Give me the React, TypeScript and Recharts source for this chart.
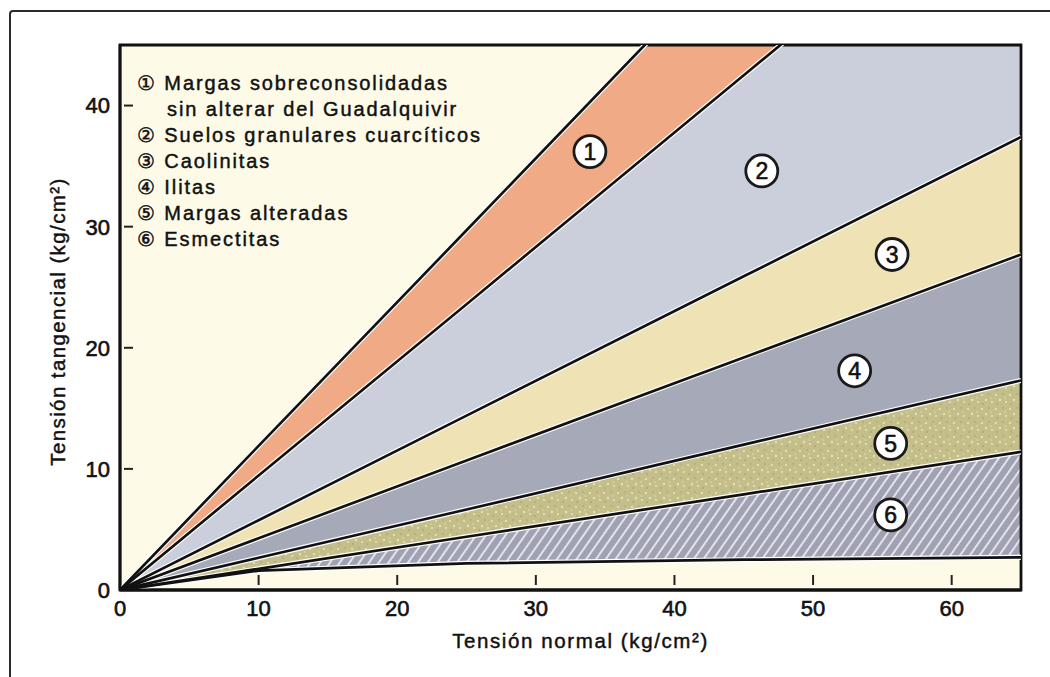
import React from 'react';
import {
  ComposedChart,
  Area,
  Line,
  XAxis,
  YAxis,
  CartesianGrid,
  ReferenceArea,
  ReferenceDot,
  Label,
} from 'recharts';

// Normal stress (x) sample points, kg/cm2
const normalStress = [0, 10, 25, 45, 65];
// Boundary lines (tangential stress, kg/cm2) read at those points
const line1 = [0, 11.9, 29.7, 53.5, 77.3];
const line2 = [0, 9.45, 23.6, 42.5, 61.4];
const line3 = [0, 5.76, 14.4, 25.9, 37.4];
const line4 = [0, 4.27, 10.7, 19.2, 27.7];
const line5 = [0, 2.66, 6.65, 12.0, 17.3];
const line6 = [0, 1.75, 4.4, 7.9, 11.4];
const lineBase = [0, 1.6, 2.2, 2.5, 2.7];

const xTicks = [0, 10, 20, 30, 40, 50, 60];
const yTicks = [0, 10, 20, 30, 40];

const bandNames = ['1', '2', '3', '4', '5', '6'];
const bandLabelX = [33.9, 46.3, 55.7, 53.0, 55.6, 55.6];
const bandLabelY = [36.2, 34.6, 27.7, 18.1, 12.1, 6.2];

const legendLines = [
  '\u2460 Margas sobreconsolidadas',
  'sin alterar del Guadalquivir',
  '\u2461 Suelos granulares cuarcíticos',
  '\u2462 Caolinitas',
  '\u2463 Ilitas',
  '\u2464 Margas alteradas',
  '\u2465 Esmectitas',
];

const xTitle = 'Tensión normal (kg/cm²)';
const yTitle = 'Tensión tangencial (kg/cm²)';

const data = normalStress.map((x, i) => ({
  x,
  l1: line1[i],
  l2: line2[i],
  l3: line3[i],
  l4: line4[i],
  l5: line5[i],
  l6: line6[i],
  lb: lineBase[i],
  b1: [line2[i], line1[i]],
  b2: [line3[i], line2[i]],
  b3: [line4[i], line3[i]],
  b4: [line5[i], line4[i]],
  b5: [line6[i], line5[i]],
  b6: [lineBase[i], line6[i]],
}));

const FONT = "'Liberation Sans', Arial, Helvetica, sans-serif";
const TM = 10;

const YTick = (props: any) => {
  const { x, y, payload } = props;
  return (
    <g>
      {payload.value !== 0 && (
        <line x1={x + TM + 4} x2={x + TM + 13} y1={y} y2={y} stroke="#222" strokeWidth={2} />
      )}
      <text
        x={x}
        y={y}
        dy="0.36em"
        textAnchor="end"
        fontSize={22}
        fill="#111"
        stroke="#111"
        strokeWidth={0.6}
        fontFamily={FONT}
      >
        {payload.value}
      </text>
    </g>
  );
};

const XTick = (props: any) => {
  const { x, y, payload } = props;
  return (
    <g>
      {payload.value !== 0 && (
        <line x1={x} x2={x} y1={y - TM - 5} y2={y - TM - 15} stroke="#222" strokeWidth={2} />
      )}
      <text
        x={x}
        y={y}
        dy="0.72em"
        textAnchor="middle"
        fontSize={22}
        fill="#111"
        stroke="#111"
        strokeWidth={0.6}
        fontFamily={FONT}
      >
        {payload.value}
      </text>
    </g>
  );
};

const bandFills = ['#f0aa85', '#cbcedb', '#efe3b5', '#a6aab8', 'url(#speckle)', 'url(#hatch)'];
const bandKeys = ['b1', 'b2', 'b3', 'b4', 'b5', 'b6'];
const lineKeys = ['l1', 'l2', 'l3', 'l4', 'l5', 'l6', 'lb'];

export default function App() {
  return (
    <div style={{ position: 'absolute', left: 0, top: 0, width: 1050, height: 677, overflow: 'hidden', background: '#fff' }}>
      <svg width={0} height={0} style={{ position: 'absolute' }}>
        <defs>
          <pattern id="hatch" patternUnits="userSpaceOnUse" width={8} height={8} patternTransform="rotate(35)">
            <rect width={8} height={8} fill="#a0a2b3" />
            <line x1={1} y1={0} x2={1} y2={8} stroke="#eeeff4" strokeWidth={1.7} />
          </pattern>
          <pattern id="speckle" patternUnits="userSpaceOnUse" width={14} height={14}>
            <rect width={14} height={14} fill="#c4bf8a" />
            <circle cx={2} cy={3} r={1.1} fill="#e8e5b8" />
            <circle cx={9} cy={2} r={0.8} fill="#a39e6e" />
            <circle cx={6} cy={8} r={1.2} fill="#e5e2b2" />
            <circle cx={12} cy={10} r={1} fill="#e8e5ba" />
            <circle cx={3} cy={12} r={0.8} fill="#9e996a" />
            <circle cx={11} cy={6} r={0.8} fill="#dfdba8" />
          </pattern>
        </defs>
      </svg>
      <div
        style={{
          position: 'absolute',
          left: 9,
          top: 10,
          width: 1200,
          height: 1000,
          border: '2px solid #2b2b2b',
          borderRadius: 4,
          boxSizing: 'border-box',
        }}
      />
      <div style={{ position: 'absolute', left: 0, top: 0 }}>
        <ComposedChart width={1050} height={677} data={data} margin={{ top: 45, right: 29, left: 0, bottom: 0 }}>
          <CartesianGrid horizontal={false} vertical={false} fill="#fdfbe8" />
          <XAxis
            dataKey="x"
            type="number"
            domain={[0, 65]}
            ticks={xTicks}
            allowDataOverflow
            height={87}
            tickSize={0}
            tickMargin={TM}
            tickLine={false}
            tick={<XTick />}
            axisLine={{ stroke: '#111', strokeWidth: 2.8 }}
          >
            <Label
              content={(p: any) => {
                const vb = p.viewBox;
                return (
                  <text
                    x={vb.x + vb.width / 2 + 10}
                    y={vb.y + 58}
                    textAnchor="middle"
                    fontSize={20.5}
                    fill="#111"
                    stroke="#111"
                    strokeWidth={0.45}
                    fontFamily={FONT}
                    letterSpacing={1.6}
                  >
                    {xTitle}
                  </text>
                );
              }}
            />
          </XAxis>
          <YAxis
            type="number"
            domain={[0, 45]}
            ticks={yTicks}
            allowDataOverflow
            width={120}
            tickSize={0}
            tickMargin={TM}
            tickLine={false}
            tick={<YTick />}
            axisLine={{ stroke: '#111', strokeWidth: 2.8 }}
          >
            <Label
              content={(p: any) => {
                const vb = p.viewBox;
                const cx = vb.x + 57;
                const cy = vb.y + vb.height / 2 + 4;
                return (
                  <text
                    x={cx}
                    y={cy}
                    transform={`rotate(-90, ${cx}, ${cy})`}
                    textAnchor="middle"
                    dominantBaseline="central"
                    fontSize={20.5}
                    fill="#111"
                    stroke="#111"
                    strokeWidth={0.45}
                    fontFamily={FONT}
                    letterSpacing={1.4}
                  >
                    {yTitle}
                  </text>
                );
              }}
            />
          </YAxis>
          {bandKeys.map((k, i) => (
            <Area
              key={k}
              dataKey={k}
              type="linear"
              fill={bandFills[i]}
              fillOpacity={1}
              stroke="none"
              isAnimationActive={false}
              activeDot={false}
            />
          ))}
          {lineKeys.map((k) => (
            <Line
              key={'w' + k}
              dataKey={k}
              type="linear"
              stroke="#ffffff"
              strokeWidth={5}
              dot={false}
              activeDot={false}
              isAnimationActive={false}
            />
          ))}
          {lineKeys.map((k) => (
            <Line
              key={'k' + k}
              dataKey={k}
              type="linear"
              stroke="#111"
              strokeWidth={2.7}
              dot={false}
              activeDot={false}
              isAnimationActive={false}
            />
          ))}
          <ReferenceArea x1={0} x2={65} y1={0} y2={45} fill="none" stroke="#111" strokeWidth={2.8} />
          {bandNames.map((n, i) => (
            <ReferenceDot
              key={'lab' + n}
              x={bandLabelX[i]}
              y={bandLabelY[i]}
              r={16}
              fill="#fff"
              stroke="#1a1a1a"
              strokeWidth={2.8}
              label={{ value: n, position: 'center', fontSize: 23, fill: '#111', stroke: '#111', strokeWidth: 0.6, fontFamily: FONT }}
            />
          ))}
        </ComposedChart>
      </div>
      <div
        style={{
          position: 'absolute',
          left: 137,
          top: 70,
          fontFamily: FONT,
          fontSize: 20,
          lineHeight: '26px',
          color: '#111',
          letterSpacing: 1.9,
          whiteSpace: 'nowrap',
          WebkitTextStroke: '0.45px #111',
        }}
      >
        {legendLines.map((t, i) => (
          <div key={i} style={{ paddingLeft: i === 1 ? 30 : 0 }}>
            {t}
          </div>
        ))}
      </div>
    </div>
  );
}
